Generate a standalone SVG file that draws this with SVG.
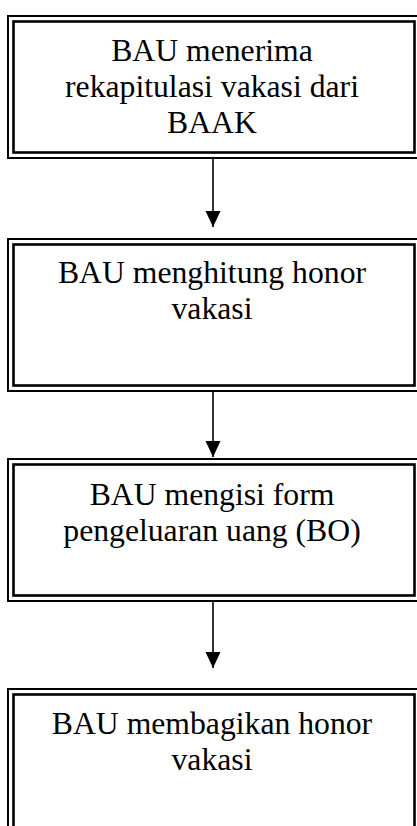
<svg xmlns="http://www.w3.org/2000/svg" width="417" height="826" viewBox="0 0 417 826">
<style>
.o{fill:none;stroke:#000;stroke-width:2}
.i{fill:none;stroke:#000;stroke-width:2.6}
.t{font-family:"Liberation Serif","Times New Roman",serif;font-size:31.7px;fill:#000;text-anchor:middle}
.c{stroke:#000;stroke-width:1.6;fill:none}
</style>
<defs>
<marker id="ah" markerUnits="userSpaceOnUse" markerWidth="16" markerHeight="17" refX="16" refY="7.5" orient="auto">
<path d="M0,0 L16,7.5 L0,15 Z" fill="#000"/>
</marker>
</defs>
<rect width="417" height="826" fill="#fff"/>
<g id="node1">
<rect class="o" x="8" y="16" width="414" height="142"/>
<rect class="i" x="13.5" y="21.5" width="401" height="131"/>
<text class="t" x="212" y="61">BAU menerima</text>
<text class="t" x="212" y="97">rekapitulasi vakasi dari</text>
<text class="t" x="212" y="133">BAAK</text>
</g>
<g id="node2">
<rect class="o" x="8" y="239" width="414" height="152"/>
<rect class="i" x="13.5" y="244.5" width="401" height="141"/>
<text class="t" x="212" y="283">BAU menghitung honor</text>
<text class="t" x="212" y="319">vakasi</text>
</g>
<g id="node3">
<rect class="o" x="8" y="459" width="414" height="142"/>
<rect class="i" x="13.5" y="464.5" width="401" height="131"/>
<text class="t" x="212" y="505">BAU mengisi form</text>
<text class="t" x="212" y="541">pengeluaran uang (BO)</text>
</g>
<g id="node4">
<rect class="o" x="8" y="689" width="414" height="150"/>
<rect class="i" x="13.5" y="694.5" width="401" height="140"/>
<text class="t" x="212" y="734">BAU membagikan honor</text>
<text class="t" x="212" y="770">vakasi</text>
</g>
<g id="connectors">
<line class="c" x1="213" y1="158" x2="213" y2="227" marker-end="url(#ah)"/>
<line class="c" x1="213" y1="391" x2="213" y2="457" marker-end="url(#ah)"/>
<line class="c" x1="213" y1="601" x2="213" y2="668" marker-end="url(#ah)"/>
</g>
</svg>
